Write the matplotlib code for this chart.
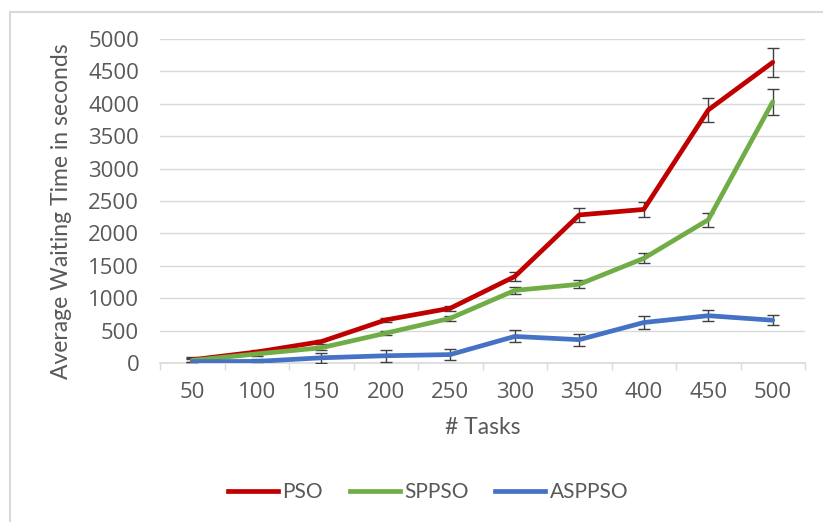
import numpy as np
import matplotlib
matplotlib.use("Agg")
import matplotlib.pyplot as plt
from matplotlib.lines import Line2D

tasks = ["50", "100", "150", "200", "250", "300", "350", "400", "450", "500"]

pso = [50, 170, 330, 665, 845, 1335, 2285, 2370, 3905, 4640]
pso_err = [40, 35, 30, 35, 40, 75, 110, 110, 190, 225]

sppso = [40, 140, 235, 460, 690, 1120, 1215, 1615, 2210, 4030]
sppso_err = [30, 30, 30, 30, 35, 50, 60, 75, 110, 200]

asppso = [20, 25, 80, 112, 130, 410, 360, 625, 730, 660]
asppso_err = [45, 40, 75, 90, 90, 92, 95, 95, 85, 80]

grey_txt = "#595959"
grid_col = "#d9d9d9"

fig = plt.figure(figsize=(8.23, 5.22), dpi=100)
ax = fig.add_axes([160/823, 1-363/522, 645/823, (363-39)/522])

x = np.arange(len(tasks))
series = [("PSO", pso, pso_err, "#c00000"),
          ("SPPSO", sppso, sppso_err, "#70ad47"),
          ("ASPPSO", asppso, asppso_err, "#4472c4")]

for name, vals, err, col in series:
    ax.errorbar(x, vals, yerr=err, color=col, lw=3.4, ecolor="#404040",
                elinewidth=1, capsize=4.5, capthick=1, solid_capstyle="round",
                solid_joinstyle="round", zorder=3, label=name)

ax.set_xlim(-0.5, len(tasks) - 0.5)
ax.set_ylim(0, 5000)
ax.set_yticks(np.arange(0, 5001, 500))
ax.set_xticks(x)
ax.set_xticklabels(tasks)
ax.set_xticks(np.arange(-0.5, len(tasks)), minor=True)

ax.grid(axis="y", color=grid_col, lw=1)
ax.set_axisbelow(True)
for s in ["top", "right", "left"]:
    ax.spines[s].set_visible(False)
ax.spines["bottom"].set_color(grid_col)
ax.spines["bottom"].set_linewidth(1.2)

ax.tick_params(axis="x", which="major", length=0, pad=14, labelsize=16,
               labelcolor=grey_txt, labelfontfamily="Open Sans")
ax.tick_params(axis="x", which="minor", length=5, color=grid_col, width=1)
ax.tick_params(axis="y", length=0, pad=15, labelsize=16,
               labelcolor=grey_txt, labelfontfamily="Open Sans")

ax.set_xlabel("# Tasks", fontsize=16.5, color=grey_txt, family="Lato", va="center")
ax.xaxis.set_label_coords(0.5, (363-427)/324)
ax.set_ylabel("Average Waiting Time in seconds", fontsize=16.5, color=grey_txt,
              family="Lato", va="center")
ax.yaxis.set_label_coords((62-160)/645, (363-211)/324)

handles = [Line2D([0], [0], color=c, lw=3.4) for _, _, _, c in series]
fig.legend(handles, [s[0] for s in series], loc="center", ncol=3,
           bbox_to_anchor=(428/823, 1-492/522), frameon=False,
           prop={"family": "Lato", "size": 15}, labelcolor=grey_txt,
           handlelength=2.4, handletextpad=0.2, columnspacing=1.3)

# chart frame (top and left edges)
fig.add_artist(Line2D([10/823, 1], [1-12/522, 1-12/522], color=grid_col, lw=1.5))
fig.add_artist(Line2D([10/823, 10/823], [0, 1-12/522], color=grid_col, lw=1.5))

fig.savefig("out.png", dpi=100)
